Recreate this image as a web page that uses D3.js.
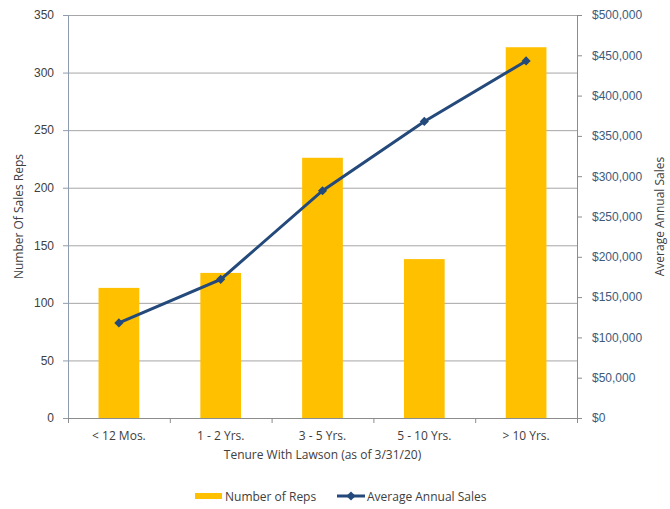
<!DOCTYPE html>
<html>
<head>
<meta charset="utf-8">
<script src="https://cdn.jsdelivr.net/npm/d3@7"></script>
<style>
  body { margin: 0; background: #fff; }
  svg { display: block; font-family: "Open Sans", "Noto Sans", sans-serif; }
</style>
</head>
<body>
<div id="chart"></div>
<script>
let width = 670;
let height = 509;

// tenure buckets and the two series
let tenure = ['< 12 Mos.', '1 - 2 Yrs.', '3 - 5 Yrs.', '5 - 10 Yrs.', '> 10 Yrs.'];
let reps = [113, 126, 226, 138, 322];
let avgSales = [118000, 172000, 282000, 368000, 443000];

let repTicks = [0, 50, 100, 150, 200, 250, 300, 350];
let salesTicks = [0, 50000, 100000, 150000, 200000, 250000, 300000, 350000, 400000, 450000, 500000];

let margin = {top: 15, right: 93, bottom: 91, left: 68};
let plotW = width - margin.left - margin.right;
let plotH = height - margin.top - margin.bottom;

let barColor = '#ffc000';
let lineColor = '#24497b';
let gridColor = '#a6a6a6';

let svg = d3.select('#chart')
	.append('svg')
	.attr('width', width)
	.attr('height', height);

let g = svg.append('g').attr('transform', `translate(${margin.left},${margin.top})`);

let x = d3.scaleBand()
	.domain(tenure)
	.range([0, plotW])
	.paddingInner(0.6)
	.paddingOuter(0.3);

let yLeft = d3.scaleLinear().domain([0, 350]).range([plotH, 0]);
let yRight = d3.scaleLinear().domain([0, 500000]).range([plotH, 0]);

// horizontal gridlines
g.append('g')
	.selectAll('line')
	.data(repTicks.slice(1))
	.join('line')
	.attr('x1', 0)
	.attr('x2', plotW)
	.attr('y1', d => yLeft(d) + 0.5)
	.attr('y2', d => yLeft(d) + 0.5)
	.attr('stroke', gridColor)
	.attr('stroke-width', 1);

// bars
g.append('g')
	.selectAll('rect')
	.data(reps)
	.join('rect')
	.attr('x', (d, i) => x(tenure[i]))
	.attr('y', d => yLeft(d))
	.attr('width', x.bandwidth())
	.attr('height', d => plotH - yLeft(d))
	.attr('fill', barColor);

// left axis
let leftAxis = g.append('g')
	.call(d3.axisLeft(yLeft).tickValues(repTicks).tickSize(5).tickPadding(9));
leftAxis.select('.domain').attr('stroke', '#8e9cae');
leftAxis.selectAll('.tick line').attr('stroke', '#8e9cae');
leftAxis.selectAll('text').attr('fill', '#404040').style('font-size', '12px');

// right axis
let fmt = d3.format('$,');
let rightAxis = g.append('g')
	.attr('transform', `translate(${plotW},0)`)
	.call(d3.axisRight(yRight).tickValues(salesTicks).tickFormat(fmt).tickSize(5).tickPadding(10));
rightAxis.select('.domain').attr('stroke', '#8c8c8c');
rightAxis.selectAll('.tick line').attr('stroke', '#8c8c8c');
rightAxis.selectAll('text').attr('fill', '#3d5a7a').style('font-size', '12px');

// bottom axis with ticks between categories
let bottom = g.append('g').attr('transform', `translate(0,${plotH})`);
bottom.append('line')
	.attr('x1', 0).attr('x2', plotW)
	.attr('y1', 0.5).attr('y2', 0.5)
	.attr('stroke', '#8c8c8c');
bottom.selectAll('.sep')
	.data(d3.range(tenure.length + 1))
	.join('line')
	.attr('class', 'sep')
	.attr('x1', i => i * x.step() + 0.5)
	.attr('x2', i => i * x.step() + 0.5)
	.attr('y1', 0)
	.attr('y2', 5)
	.attr('stroke', '#8c8c8c');
bottom.selectAll('.cat')
	.data(tenure)
	.join('text')
	.attr('class', 'cat')
	.attr('x', d => x(d) + x.bandwidth() / 2)
	.attr('y', 22)
	.attr('text-anchor', 'middle')
	.attr('fill', '#404040')
	.style('font-size', '12px')
	.text(d => d);

// sales line
let line = d3.line()
	.x((d, i) => x(tenure[i]) + x.bandwidth() / 2)
	.y(d => yRight(d));

g.append('path')
	.datum(avgSales)
	.attr('d', line)
	.attr('fill', 'none')
	.attr('stroke', lineColor)
	.attr('stroke-width', 3);

// square markers turned 45 degrees
let marker = d3.symbol().type(d3.symbolSquare).size(42);
g.append('g')
	.selectAll('path')
	.data(avgSales)
	.join('path')
	.attr('d', marker)
	.attr('transform', (d, i) => `translate(${x(tenure[i]) + x.bandwidth() / 2},${yRight(d)}) rotate(45)`)
	.attr('fill', lineColor);

// axis titles
svg.append('text')
	.attr('x', margin.left + plotW / 2)
	.attr('y', 459)
	.attr('text-anchor', 'middle')
	.attr('fill', '#404040')
	.style('font-size', '12px')
	.text('Tenure With Lawson (as of 3/31/20)');

svg.append('text')
	.attr('transform', `translate(23,${margin.top + plotH / 2}) rotate(-90)`)
	.attr('text-anchor', 'middle')
	.attr('fill', '#404040')
	.style('font-size', '12px')
	.text('Number Of Sales Reps');

svg.append('text')
	.attr('transform', `translate(664,${margin.top + plotH / 2}) rotate(-90)`)
	.attr('text-anchor', 'middle')
	.attr('fill', '#404040')
	.style('font-size', '12px')
	.text('Average Annual Sales');

// legend
let legend = svg.append('g').attr('transform', 'translate(195,496)');
legend.append('rect')
	.attr('x', 0).attr('y', -3)
	.attr('width', 27).attr('height', 6)
	.attr('fill', barColor);
legend.append('text')
	.attr('x', 30).attr('y', 4.5)
	.attr('fill', '#404040')
	.style('font-size', '12px')
	.text('Number of Reps');
legend.append('line')
	.attr('x1', 142).attr('x2', 170)
	.attr('y1', 0).attr('y2', 0)
	.attr('stroke', lineColor)
	.attr('stroke-width', 3);
legend.append('path')
	.attr('d', marker)
	.attr('transform', 'translate(156,0) rotate(45)')
	.attr('fill', lineColor);
legend.append('text')
	.attr('x', 172).attr('y', 4.5)
	.attr('fill', '#404040')
	.style('font-size', '12px')
	.text('Average Annual Sales');
</script>
</body>
</html>
